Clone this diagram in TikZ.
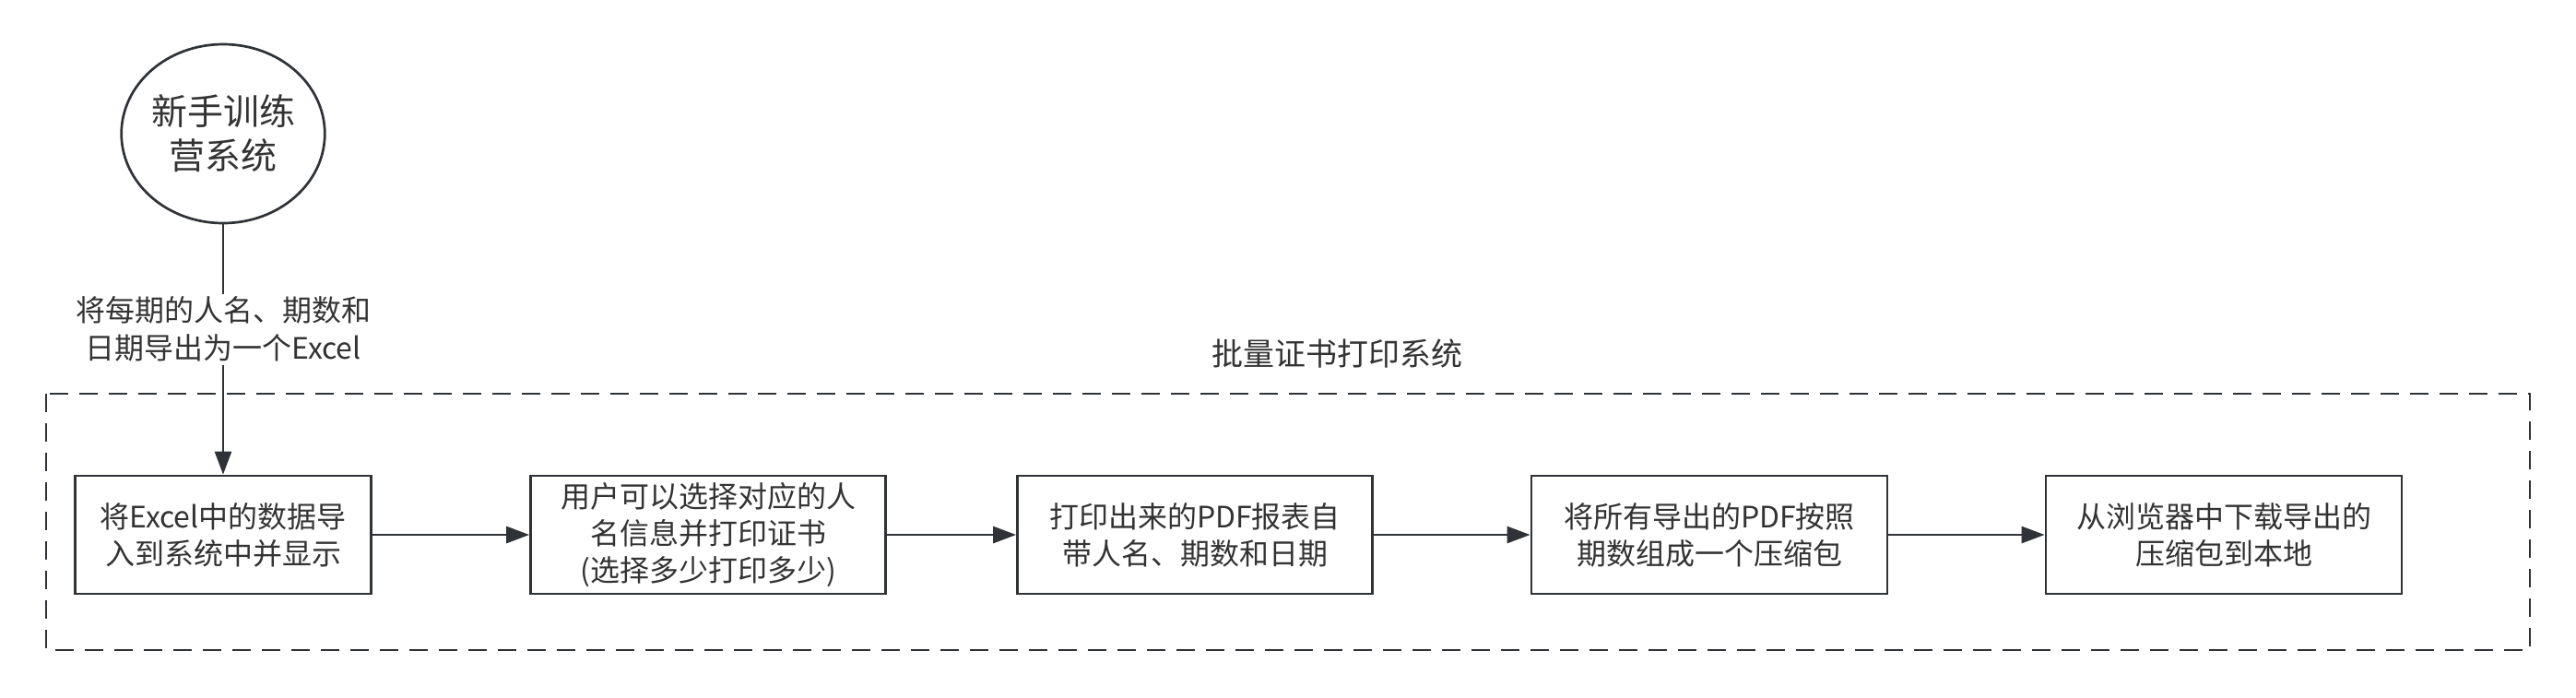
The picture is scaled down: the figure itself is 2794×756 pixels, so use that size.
\documentclass[tikz,border=0pt]{standalone}
\usepackage{fontspec}
\setmainfont{Noto Sans CJK SC}
\usetikzlibrary{arrows.meta,shapes.geometric}
\definecolor{ln}{HTML}{2F3236}
\definecolor{tx}{HTML}{333333}
\tikzset{
  stepbox/.style={draw=ln, line width=2.7pt, rectangle, minimum height=128pt, align=center, text=tx, font=\fontsize{32}{40}\selectfont, inner sep=0pt},
  conn/.style={draw=ln, line width=2.7pt, -{Triangle[length=25pt,width=18pt]}},
}
\begin{document}
\begin{tikzpicture}[x=1pt,y=-1pt]
\useasboundingbox (0,0) rectangle (2794,756);
\draw[draw=ln, line width=2.7pt, dash pattern=on 20pt off 12pt] (50,427) rectangle (2744,705);
\node[text=tx, font=\fontsize{34}{40}\selectfont] (title) at (1450,383) {批量证书打印系统};
\node[draw=ln, line width=2.7pt, ellipse, minimum width=201pt, minimum height=194pt, inner sep=0pt, align=center, text=tx, font=\fontsize{39}{48}\selectfont] (sys) at (242,145) {新手训练\\营系统};
\node[stepbox, minimum width=321pt] (b1) at (242,580) {将Excel中的数据导\\入到系统中并显示};
\node[stepbox, minimum width=385pt] (b2) at (768,580) {用户可以选择对应的人\\名信息并打印证书\\(选择多少打印多少)};
\node[stepbox, minimum width=385pt] (b3) at (1296,580) {打印出来的PDF报表自\\带人名、期数和日期};
\node[stepbox, minimum width=386pt] (b4) at (1854,580) {将所有导出的PDF按照\\期数组成一个压缩包};
\node[stepbox, minimum width=386pt] (b5) at (2412,580) {从浏览器中下载导出的\\压缩包到本地};
\draw[conn] (sys) -- (b1) node[pos=0.42, fill=white, inner sep=3pt, align=center, text=tx, font=\fontsize{32}{41}\selectfont] (lbl) {将每期的人名、期数和\\日期导出为一个Excel};
\draw[conn] (b1) -- (b2);
\draw[conn] (b2) -- (b3);
\draw[conn] (b3) -- (b4);
\draw[conn] (b4) -- (b5);
\end{tikzpicture}
\end{document}
